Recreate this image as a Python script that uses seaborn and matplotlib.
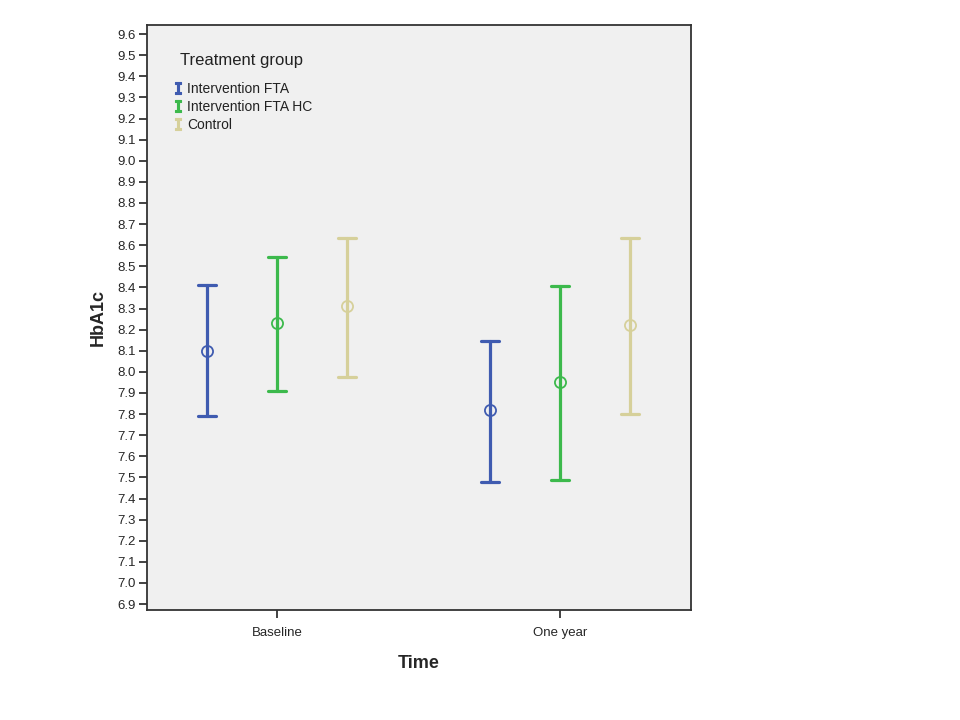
import numpy as np
import pandas as pd
import matplotlib
matplotlib.use("Agg")
import matplotlib.pyplot as plt
import seaborn as sns
from matplotlib.lines import Line2D

times = ["Baseline", "One year"]
groups = ["Intervention FTA", "Intervention FTA HC", "Control"]
# mean, lower CI, upper CI per group per time
means = {"Intervention FTA": [8.10, 7.82],
         "Intervention FTA HC": [8.23, 7.95],
         "Control": [8.31, 8.22]}
lows = {"Intervention FTA": [7.79, 7.48],
        "Intervention FTA HC": [7.91, 7.49],
        "Control": [7.975, 7.80]}
highs = {"Intervention FTA": [8.41, 8.145],
         "Intervention FTA HC": [8.545, 8.405],
         "Control": [8.635, 8.635]}
colors = ["#3f5bb0", "#3cb94c", "#d6d09a"]
yticks = [round(6.9 + 0.1 * i, 1) for i in range(28)]

rows = []
for g in groups:
    for i, t in enumerate(times):
        for v in (lows[g][i], means[g][i], highs[g][i]):
            rows.append({"Time": t, "group": g, "HbA1c": v})
df = pd.DataFrame(rows)

sns.set_theme(style="white")
plt.rcParams["font.family"] = ["Liberation Sans", "DejaVu Sans"]

fig = plt.figure(figsize=(9.6, 7.2), dpi=100)
ax = fig.add_axes([147 / 960, 1 - 610 / 720, (691 - 147) / 960, (610 - 25) / 720])
ax.set_facecolor("#f0f0f0")

sns.pointplot(data=df, x="Time", y="HbA1c", hue="group", hue_order=groups,
              order=times, palette=colors, estimator="median",
              errorbar=("pi", 100), dodge=0.494, linestyle="none",
              markers="o", capsize=0.065, err_kws={"linewidth": 2.3},
              ax=ax, legend=False)

for ln in ax.lines:
    if ln.get_marker() == "o":
        ln.set_markerfacecolor("none")
        ln.set_markersize(8)
        ln.set_markeredgewidth(1.3)

ax.set_ylim(6.872, 9.643)
ax.set_xlim(-0.459, 1.463)
ax.set_yticks(yticks)
ax.set_yticklabels([f"{v:.1f}" for v in yticks], fontsize=9.5)
ax.tick_params(axis="y", which="both", left=True, length=6, width=1.2,
               color="#222222", pad=2)
ax.tick_params(axis="x", bottom=True, length=6, width=1.2, color="#222222",
               labelsize=9.5, pad=6)
for s in ax.spines.values():
    s.set_color("#333333")
    s.set_linewidth(1.3)

ax.set_ylabel("HbA1c", fontsize=13, fontweight="bold", labelpad=8)
ax.set_xlabel("Time", fontsize=13, fontweight="bold", labelpad=12)

ax.text(0.061, 0.940, "Treatment group", transform=ax.transAxes,
        fontsize=12, ha="left", va="center", color="#222222")
handles = [Line2D([], [], color=c, marker="$\\mathtt{I}$", linestyle="none",
                  markersize=8, markeredgewidth=0.8) for c in colors]
leg = ax.legend(handles, groups, loc="upper left",
                bbox_to_anchor=(0.0485, 0.903), frameon=False, fontsize=10,
                handlelength=0.6, handletextpad=0.4, borderpad=0,
                borderaxespad=0, labelspacing=0.3)
for t in leg.get_texts():
    t.set_color("#222222")

fig.savefig("out.png", dpi=100)
